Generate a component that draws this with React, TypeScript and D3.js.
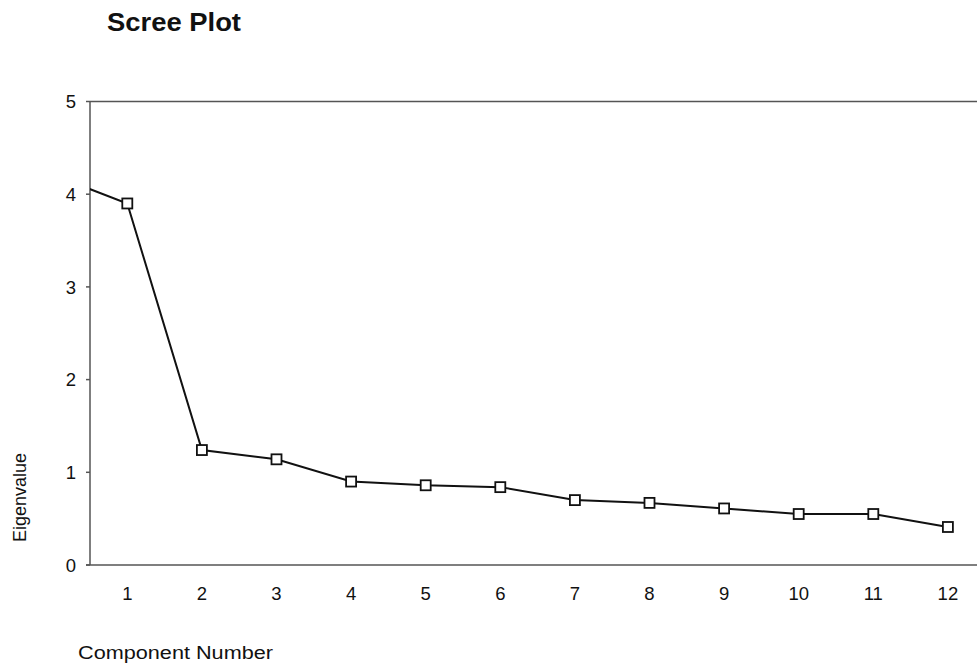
import React, { useEffect, useRef } from "react";
import * as d3 from "d3";

// component numbers and eigenvalues
const components = [1, 2, 3, 4, 5, 6, 7, 8, 9, 10, 11, 12];
const eigenvalues = [3.9, 1.24, 1.14, 0.9, 0.86, 0.84, 0.7, 0.67, 0.61, 0.55, 0.55, 0.41];
// the line enters from the left edge, as if from a point before component 1
const leadIn = { component: 0, value: 4.21 };
const yTicks = [0, 1, 2, 3, 4, 5];

export default function App() {
  const ref = useRef<SVGSVGElement | null>(null);

  useEffect(() => {
    const svg = d3.select(ref.current);
    svg.selectAll("*").remove();

    const left = 90;
    const top = 101.5;
    const bottom = 565;
    const step = 74.6;
    const font = "Arial, 'Liberation Sans', sans-serif";

    const x = d3.scaleLinear().domain([0.5, 12.5]).range([left, left + 12 * step]);
    const y = d3.scaleLinear().domain([0, 5]).range([bottom, top]);

    svg.append("defs").append("clipPath").attr("id", "plotclip")
      .append("rect").attr("x", left).attr("y", top - 5).attr("width", 12 * step).attr("height", bottom - top + 10);

    svg.append("text")
      .attr("x", 107).attr("y", 31)
      .attr("font-family", font).attr("font-weight", "bold").attr("font-size", 26)
      .attr("textLength", 134).attr("lengthAdjust", "spacingAndGlyphs")
      .attr("fill", "#111")
      .text("Scree Plot");

    // frame: left axis, top line, baseline
    const axisColor = "#555";
    svg.append("line").attr("x1", left).attr("x2", left).attr("y1", top).attr("y2", bottom)
      .attr("stroke", axisColor).attr("stroke-width", 1.5);
    svg.append("line").attr("x1", left).attr("x2", 977).attr("y1", top).attr("y2", top)
      .attr("stroke", axisColor).attr("stroke-width", 1.5);
    svg.append("line").attr("x1", left - 4).attr("x2", 977).attr("y1", bottom).attr("y2", bottom)
      .attr("stroke", axisColor).attr("stroke-width", 1.5);

    const yAxis = svg.append("g");
    yAxis.selectAll("line").data(yTicks).join("line")
      .attr("x1", left - 4).attr("x2", left)
      .attr("y1", d => y(d)).attr("y2", d => y(d))
      .attr("stroke", axisColor).attr("stroke-width", 1.5);
    yAxis.selectAll("text").data(yTicks).join("text")
      .attr("x", 76).attr("y", d => y(d) + 6.6)
      .attr("text-anchor", "end")
      .attr("font-family", font).attr("font-size", 18.5).attr("fill", "#111")
      .text(d => d);

    svg.append("g").selectAll("text").data(components).join("text")
      .attr("x", d => x(d)).attr("y", 600)
      .attr("text-anchor", "middle")
      .attr("font-family", font).attr("font-size", 18.5).attr("fill", "#111")
      .text(d => d);

    svg.append("text")
      .attr("x", 78).attr("y", 659)
      .attr("font-family", font).attr("font-size", 17.5).attr("fill", "#111")
      .attr("textLength", 195).attr("lengthAdjust", "spacingAndGlyphs")
      .text("Component Number");

    svg.append("text")
      .attr("transform", `translate(26,542) rotate(-90)`)
      .attr("font-family", font).attr("font-size", 18).attr("fill", "#111")
      .text("Eigenvalue");

    const pts = [[leadIn.component, leadIn.value], ...components.map((c, i) => [c, eigenvalues[i]])];
    const line = d3.line<number[]>().x(d => x(d[0])).y(d => y(d[1]));
    svg.append("path")
      .attr("clip-path", "url(#plotclip)")
      .attr("d", line(pts))
      .attr("fill", "none").attr("stroke", "#111").attr("stroke-width", 2);

    const s = 10;
    svg.append("g").selectAll("rect").data(components).join("rect")
      .attr("x", (d) => x(d) - s / 2)
      .attr("y", (d, i) => y(eigenvalues[i]) - s / 2)
      .attr("width", s).attr("height", s)
      .attr("fill", "white").attr("stroke", "#111").attr("stroke-width", 1.8);
  }, []);

  return (
    <svg ref={ref} width={977} height={666}
      style={{ position: "absolute", left: 0, top: 0, background: "white" }} />
  );
}
